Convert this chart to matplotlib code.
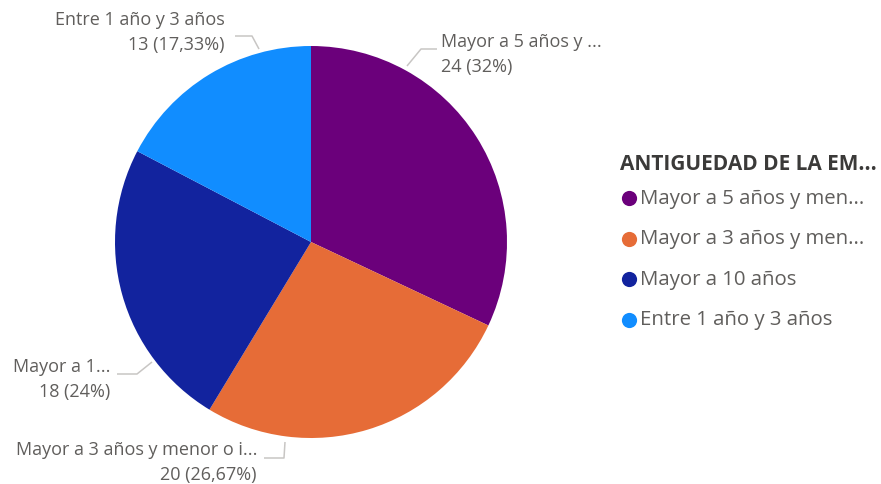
import matplotlib.pyplot as plt

plt.rcParams['font.family'] = ['Open Sans', 'DejaVu Sans']

# antigüedad en la empresa
categorias = ["Mayor a 5 años y menor o igual a 10 años",
              "Mayor a 3 años y menor o igual a 5 años",
              "Mayor a 10 años",
              "Entre 1 año y 3 años"]
cantidades = [24, 20, 18, 13]
etiquetas_corta = ["Mayor a 5 años y ...",
                   "Mayor a 3 años y menor o i...",
                   "Mayor a 1...",
                   "Entre 1 año y 3 años"]
leyenda = ["Mayor a 5 años y men...",
           "Mayor a 3 años y men...",
           "Mayor a 10 años",
           "Entre 1 año y 3 años"]
colores = ["#6B007B", "#E66C37", "#12239E", "#118DFF"]
titulo_leyenda = "ANTIGUEDAD DE LA EM..."

W, H = 881, 485
fig = plt.figure(figsize=(W / 100, H / 100), dpi=100)
ax = fig.add_axes([0, 0, 1, 1])

# pie drawn clockwise from 12 o'clock (y axis is flipped, so counterclock=True)
cx, cy, r = 311, 243, 196
ax.pie(cantidades, colors=colores, startangle=-90, counterclock=True,
       center=(cx, cy), radius=r, frame=True,
       wedgeprops=dict(linewidth=0))
ax.set_xlim(0, W)
ax.set_ylim(H, 0)
ax.axis("off")

total = sum(cantidades)


def fmt(v):
    pct = round(v / total * 100, 2)
    s = f"{pct:.2f}".rstrip("0").rstrip(".").replace(".", ",")
    return f"{v} ({s}%)"


gris = "#605E5C"
linea = "#C8C6C4"
fs = 13

# leader lines and labels: (line points, text x, text y, alignment)
guias = [
    ([(407, 67), (421, 50), (437, 50)], 441, 42, "left"),
    ([(285, 443), (284, 459), (264, 459)], 257, 450, "right"),
    ([(152, 363), (137, 375), (117, 375)], 110, 367, "right"),
    ([(259, 50), (252, 37), (235, 37)], 225, 20, "right"),
]
for i, (pts, tx, ty, ha) in enumerate(guias):
    xs, ys = zip(*pts)
    ax.plot(xs, ys, color=linea, lw=1.1, solid_capstyle="butt")
    ax.text(tx, ty, etiquetas_corta[i], ha=ha, va="center", fontsize=fs, color=gris)
    ax.text(tx, ty + 25, fmt(cantidades[i]), ha=ha, va="center", fontsize=fs, color=gris)

# legend
ax.text(620, 165, titulo_leyenda, ha="left", va="center", fontsize=15,
        fontweight="bold", color="#3B3A39")
for i, (lab, col) in enumerate(zip(leyenda, colores)):
    y = 199 + i * 40.5
    ax.scatter([629], [y], s=120, color=col, linewidths=0)
    ax.text(640, y, lab, ha="left", va="center", fontsize=14.7, color=gris)

fig.savefig("out.png", dpi=100, facecolor="white")
